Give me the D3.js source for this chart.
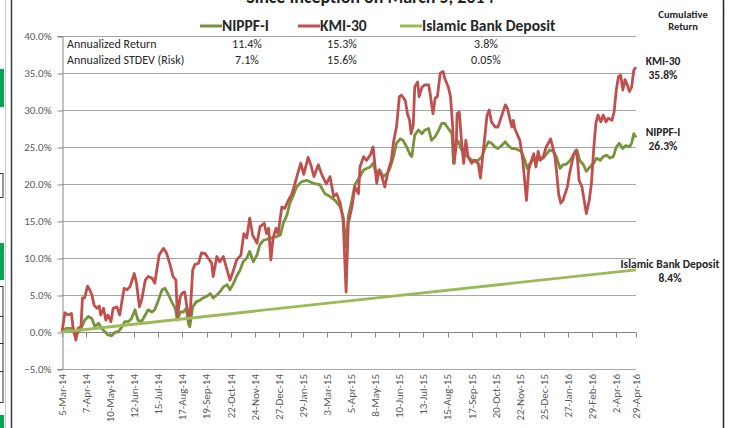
<!DOCTYPE html>
<html>
<head>
<meta charset="utf-8">
<script src="https://cdn.jsdelivr.net/npm/d3@7"></script>
<style>
  body { margin: 0; background: #fff; }
  svg { display: block; font-family: Carlito, Lato, "Open Sans", sans-serif; }
</style>
</head>
<body>
<div id="chart"></div>
<script>
// ---- data (cumulative return %) ----
const startDate = "2014-03-05";
const endDay = 786;

const seriesNames = ["NIPPF-I", "KMI-30", "Islamic Bank Deposit"];
const annualReturn = ["11.4%", "15.3%", "3.8%"];
const annualRisk = ["7.1%", "15.6%", "0.05%"];
const finalReturn = ["26.3%", "35.8%", "8.4%"];

// [days since inception, cumulative return %]
const nippf = [[0,0.0],[6,0.5],[13,0.5],[18,-0.4],[22,-0.1],[27,0.7],[31,1.6],[36,2.1],[41,1.8],[45,0.7],
  [50,1.2],[54,0.5],[59,0.0],[63,-0.4],[68,-0.5],[73,0.0],[77,0.0],[82,0.7],[86,1.4],[91,1.4],
  [95,1.8],[100,3.0],[104,1.6],[109,1.4],[114,2.3],[118,3.0],[123,2.7],[127,3.0],[132,4.3],[137,5.7],
  [141,5.9],[146,5.0],[150,4.1],[155,3.2],[158,1.6],[162,2.7],[166,2.7],[170,3.2],[173,1.2],[175,0.7],
  [179,3.4],[184,4.1],[189,4.3],[193,4.6],[198,4.8],[203,5.2],[207,4.6],[212,5.0],[216,5.4],[221,6.1],
  [226,6.4],[230,5.7],[235,6.6],[239,7.5],[244,8.4],[248,9.5],[253,10.0],[257,10.9],[262,9.5],[267,10.4],
  [271,11.8],[276,12.4],[280,12.5],[285,12.7],[289,12.7],[294,12.9],[299,13.1],[303,14.7],[308,15.8],[312,17.4],
  [317,18.5],[321,19.6],[328,20.3],[335,20.5],[344,20.1],[353,19.9],[360,18.7],[367,18.3],[374,17.8],[381,16.9],
  [385,15.6],[389,11.5],[392,15.6],[397,17.8],[401,19.9],[408,21.0],[413,21.9],[417,22.1],[422,22.3],[426,22.8],
  [431,21.2],[435,21.9],[440,21.0],[445,21.4],[449,22.1],[454,23.7],[458,25.5],[463,26.1],[467,25.9],[472,25.0],
  [477,23.9],[479,23.7],[483,26.6],[488,27.3],[493,26.8],[497,27.3],[502,27.5],[506,25.9],[511,26.4],[515,27.1],
  [520,28.2],[524,28.2],[529,27.5],[534,26.8],[536,22.8],[540,25.9],[543,25.7],[547,24.6],[552,23.9],[556,23.7],
  [561,23.2],[566,23.2],[570,23.2],[575,23.7],[579,24.8],[584,25.7],[588,25.5],[593,25.0],[597,24.8],[602,25.2],
  [607,25.7],[611,25.2],[616,24.8],[620,24.8],[625,24.6],[629,24.4],[634,23.2],[637,22.1],[641,22.8],[645,23.2],
  [650,23.2],[655,23.5],[659,23.5],[664,24.1],[668,24.6],[673,24.4],[677,23.7],[682,22.1],[686,22.6],[691,22.7],
  [696,23.2],[700,23.9],[705,24.6],[709,23.2],[714,22.6],[718,21.7],[723,22.3],[728,22.8],[732,23.5],[737,23.2],
  [741,23.7],[746,23.9],[750,23.5],[755,23.7],[759,25.0],[763,25.5],[768,24.8],[772,25.2],[777,25.0],[780,25.5],
  [783,26.8],[786,26.3]];

const kmi30 = [[0,0.0],[4,2.6],[8,2.3],[13,2.5],[15,0.7],[19,-1.1],[22,0.5],[26,0.7],[28,4.6],[31,4.6],
  [35,6.2],[38,5.7],[41,5.0],[44,3.6],[48,3.2],[51,3.5],[53,2.3],[57,3.2],[60,1.6],[63,2.3],
  [67,1.4],[70,3.2],[75,3.4],[79,2.3],[85,5.9],[89,5.7],[93,6.1],[99,7.9],[102,6.6],[106,3.4],
  [109,4.3],[114,7.0],[118,7.5],[123,7.3],[127,6.6],[133,10.4],[139,11.3],[143,10.7],[148,9.1],[152,7.5],
  [156,7.0],[158,2.1],[162,4.8],[165,5.3],[168,5.4],[171,3.4],[175,1.6],[179,8.4],[182,9.1],[187,9.3],
  [191,10.7],[196,10.6],[200,10.0],[205,9.3],[207,7.5],[212,10.2],[216,9.5],[221,10.2],[226,8.4],[230,7.0],
  [235,8.4],[239,9.7],[245,10.4],[249,13.3],[253,12.7],[257,15.4],[261,13.1],[267,12.0],[271,14.2],[277,14.7],
  [280,13.3],[283,14.0],[286,9.7],[289,12.7],[293,14.0],[296,13.3],[301,16.9],[305,16.7],[310,17.8],[315,18.7],
  [319,20.1],[323,21.5],[327,22.8],[331,21.3],[337,23.6],[341,22.5],[345,21.0],[351,22.6],[356,21.2],[362,20.0],
  [367,21.0],[372,18.3],[376,18.7],[381,17.4],[385,15.1],[389,5.4],[392,14.7],[397,16.9],[401,19.6],[406,18.7],
  [408,22.3],[413,23.7],[417,23.2],[422,23.9],[426,25.0],[431,20.1],[434,21.9],[438,21.0],[442,19.6],[447,21.9],
  [451,23.2],[454,25.7],[458,27.7],[462,31.8],[465,32.0],[470,31.3],[473,29.5],[476,28.6],[478,26.8],[481,28.0],
  [483,33.1],[487,33.8],[489,31.8],[493,33.1],[497,33.4],[502,33.4],[504,32.3],[508,29.5],[511,31.6],[514,31.8],
  [518,35.0],[522,35.2],[524,34.3],[529,33.1],[532,31.8],[535,27.7],[537,22.8],[540,25.5],[541,29.5],[544,29.7],
  [547,25.9],[550,22.8],[553,25.9],[556,23.7],[561,22.8],[564,23.2],[570,22.8],[573,20.8],[576,23.7],[579,26.4],
  [582,29.3],[585,30.0],[588,28.4],[593,27.7],[597,27.7],[601,28.9],[603,29.5],[607,30.7],[610,30.2],[613,28.9],
  [616,27.7],[618,28.6],[620,27.5],[623,26.8],[627,25.9],[631,23.2],[633,21.0],[636,17.8],[639,21.9],[643,23.2],
  [646,24.1],[649,22.3],[652,24.4],[655,23.2],[659,23.7],[663,25.0],[666,25.5],[669,26.1],[672,25.0],[675,23.7],
  [677,21.9],[680,18.7],[683,17.4],[686,17.8],[689,18.7],[692,19.6],[695,21.4],[698,22.8],[701,24.1],[704,24.6],
  [706,23.2],[708,20.5],[712,19.6],[715,17.8],[718,16.0],[722,17.8],[725,20.1],[728,24.6],[731,28.2],[734,29.3],
  [738,28.4],[741,29.3],[745,28.4],[748,28.9],[753,28.6],[756,29.7],[759,32.7],[762,34.5],[765,34.7],[768,32.7],
  [771,34.1],[774,33.4],[777,32.5],[780,33.1],[783,35.4],[786,35.8]];

const deposit = [[0,0.0],[393,4.2],[786,8.4]];

const yTickValues = [-5, 0, 5, 10, 15, 20, 25, 30, 35, 40];
const xTickLabels = ["5-Mar-14","7-Apr-14","10-May-14","12-Jun-14","15-Jul-14","17-Aug-14","19-Sep-14",
  "22-Oct-14","24-Nov-14","27-Dec-14","29-Jan-15","3-Mar-15","5-Apr-15","8-May-15","10-Jun-15",
  "13-Jul-15","15-Aug-15","17-Sep-15","20-Oct-15","22-Nov-15","25-Dec-15","27-Jan-16","29-Feb-16",
  "2-Apr-16","29-Apr-16"];

const colors = ["#77933C", "#C0504D", "#9BBB59"];

// ---- layout ----
const W = 731, H = 428;
const plot = {left: 62, right: 636, top: 36, bottom: 369};

const svg = d3.select("#chart").append("svg")
  .attr("width", W)
  .attr("height", H);

// bits of the surrounding sheet that show in the crop
svg.append("line").attr("x1", 5.5).attr("x2", 5.5).attr("y1", 0).attr("y2", H)
  .attr("stroke", "#c8c8c8").attr("stroke-width", 1);
svg.append("line").attr("x1", 11.5).attr("x2", 11.5).attr("y1", 0).attr("y2", H)
  .attr("stroke", "#3a3a3a").attr("stroke-width", 1.5);
svg.append("line").attr("x1", 723.5).attr("x2", 723.5).attr("y1", 0).attr("y2", H)
  .attr("stroke", "#222").attr("stroke-width", 1.5);
[[69, 38], [243, 37], [415, 13]].forEach(([yy, hh]) => {
  svg.append("rect").attr("x", 0).attr("y", yy).attr("width", 4).attr("height", hh).attr("fill", "#00a651");
});
[[173, 24], [286, 30], [316, 27], [343, 28], [371, 31]].forEach(([yy, hh]) => {
  svg.append("rect").attr("x", -2).attr("y", yy + 0.5).attr("width", 5).attr("height", hh)
    .attr("fill", "none").attr("stroke", "#333").attr("stroke-width", 1);
});

// ---- scales ----
const parse = d3.timeParse("%Y-%m-%d");
const start = parse(startDate);
const toDate = d => d3.timeDay.offset(start, d);
const parseTick = d3.timeParse("%d-%b-%y");

const x = d3.scaleTime()
  .domain([start, toDate(endDay)])
  .range([plot.left, plot.right]);

const y = d3.scaleLinear()
  .domain([-5, 40])
  .range([plot.bottom, plot.top]);

const snap = v => Math.round(v) + 0.5;

// gridlines
svg.append("g")
  .selectAll("line")
  .data(yTickValues)
  .join("line")
  .attr("x1", plot.left)
  .attr("x2", plot.right)
  .attr("y1", d => snap(y(d)))
  .attr("y2", d => snap(y(d)))
  .attr("stroke", "#a6a6a6")
  .attr("stroke-width", 1);

// y axis
const yAxis = svg.append("g")
  .attr("transform", `translate(${snap(plot.left)},0)`)
  .call(d3.axisLeft(y).tickValues(yTickValues).tickSize(5).tickPadding(6)
    .tickFormat(d => d3.format(".1f")(d) + "%"));
yAxis.select(".domain").attr("stroke", "#868686");
yAxis.selectAll(".tick line").attr("stroke", "#868686").attr("transform", d => `translate(0,${snap(y(d)) - y(d)})`);
yAxis.selectAll(".tick text")
  .attr("fill", "#595959")
  .style("font-size", "11px")
  .style("font-family", "Carlito, Lato, sans-serif");

// x axis line at 0% with tick marks, labels low
const y0 = snap(y(0));
svg.append("line")
  .attr("x1", plot.left).attr("x2", plot.right)
  .attr("y1", y0).attr("y2", y0)
  .attr("stroke", "#868686");

const xTicks = xTickLabels.map(s => parseTick(s));
svg.append("g")
  .selectAll("line")
  .data(xTicks)
  .join("line")
  .attr("x1", d => snap(x(d)))
  .attr("x2", d => snap(x(d)))
  .attr("y1", y0)
  .attr("y2", y0 + 5)
  .attr("stroke", "#868686");

svg.append("g")
  .selectAll("text")
  .data(xTickLabels)
  .join("text")
  .attr("transform", (d, i) => `translate(${x(xTicks[i])},${plot.bottom + 5}) rotate(-90)`)
  .attr("text-anchor", "end")
  .attr("dy", "0.35em")
  .attr("fill", "#595959")
  .style("font-size", "11px")
  .text(d => d);

// ---- series ----
const line = d3.line()
  .x(d => x(toDate(d[0])))
  .y(d => y(d[1]));

[nippf, kmi30, deposit].forEach((s, i) => {
  svg.append("path")
    .datum(s)
    .attr("fill", "none")
    .attr("stroke", colors[i])
    .attr("stroke-width", 2.8)
    .attr("stroke-linejoin", "round")
    .attr("d", line);
});

// ---- title (cut at top) ----
svg.append("text")
  .attr("x", 370)
  .attr("y", 3)
  .attr("text-anchor", "middle")
  .attr("fill", "#222")
  .style("font-size", "18px")
  .style("font-weight", "bold")
  .text("Since Inception on March 5, 2014");

// ---- legend ----
const legendX = [200, 298, 400];
const legend = svg.append("g")
  .selectAll("g")
  .data(seriesNames)
  .join("g")
  .attr("transform", (d, i) => `translate(${legendX[i]},26)`);
legend.append("line")
  .attr("x1", 0).attr("x2", 22)
  .attr("stroke", (d, i) => colors[i])
  .attr("stroke-width", 3);
legend.append("text")
  .attr("x", 22)
  .attr("dy", "0.35em")
  .attr("fill", "#262626")
  .style("font-size", "15.5px")
  .style("font-weight", "bold")
  .text(d => d);

// ---- stats table ----
const colX = [247, 342, 486];
const rows = [["Annualized Return", annualReturn, 44], ["Annualized STDEV (Risk)", annualRisk, 60]];
rows.forEach(([label, vals, yy]) => {
  svg.append("text")
    .attr("x", 67).attr("y", yy).attr("dy", "0.35em")
    .attr("fill", "#262626")
    .style("font-size", "12px")
    .text(label);
  svg.append("g")
    .selectAll("text")
    .data(vals)
    .join("text")
    .attr("x", (d, i) => colX[i])
    .attr("y", yy).attr("dy", "0.35em")
    .attr("text-anchor", "middle")
    .attr("fill", "#262626")
    .style("font-size", "12px")
    .text(d => d);
});

// ---- cumulative return labels ----
const sideLabels = [
  {lines: ["Cumulative", "Return"], x: 683, y: 14, size: 10.5},
  {lines: [seriesNames[1], finalReturn[1]], x: 663, y: 61, size: 11.5},
  {lines: [seriesNames[0], finalReturn[0]], x: 663, y: 132, size: 11.5},
  {lines: [seriesNames[2], finalReturn[2]], x: 670, y: 264, size: 11.5}
];
sideLabels.forEach(l => {
  const t = svg.append("text")
    .attr("x", l.x).attr("y", l.y)
    .attr("text-anchor", "middle")
    .attr("fill", "#262626")
    .style("font-size", l.size + "px")
    .style("font-weight", "bold");
  l.lines.forEach((s, i) => {
    t.append("tspan")
      .attr("x", l.x)
      .attr("dy", i === 0 ? "0.35em" : "1.2em")
      .text(s);
  });
});
</script>
</body>
</html>
